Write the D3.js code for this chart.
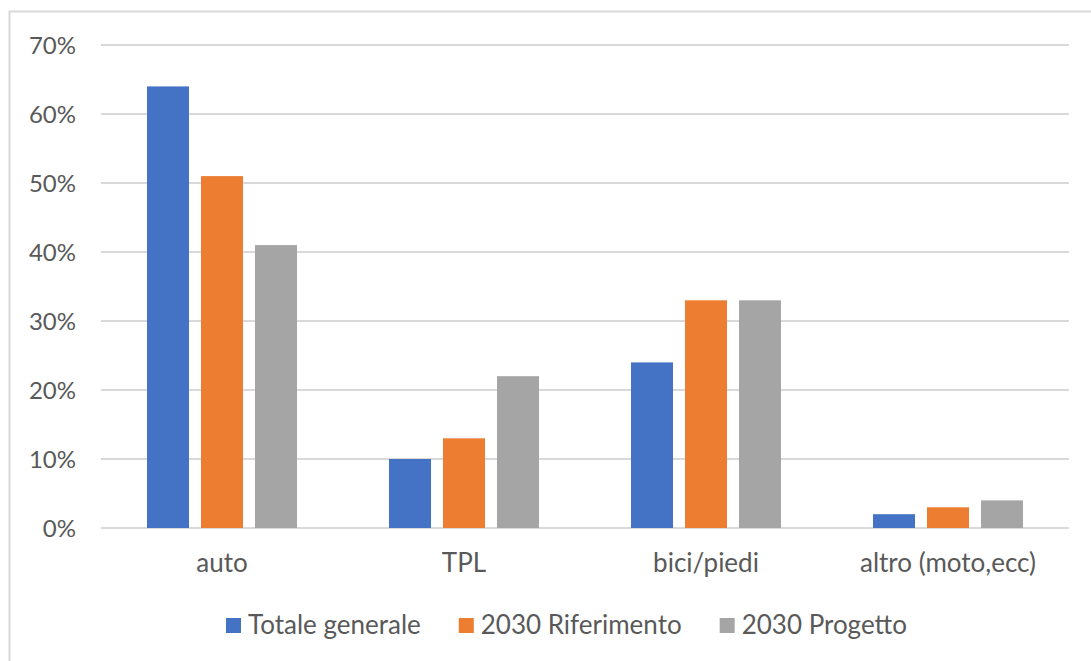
<!DOCTYPE html>
<html>
<head>
<meta charset="utf-8">
<script src="https://cdn.jsdelivr.net/npm/d3@7"></script>
<style>
  body { margin: 0; background: #fff; }
  svg { display: block; font-family: Lato, "Open Sans", sans-serif; }
</style>
</head>
<body>
<script>
width = 1091;
height = 661;
margin = { top: 45, right: 22, bottom: 133, left: 101 }

// data
var categories = ["auto", "TPL", "bici/piedi", "altro (moto,ecc)"];
var seriesNames = ["Totale generale", "2030 Riferimento", "2030 Progetto"];
var totaleGenerale = [0.64, 0.10, 0.24, 0.02];
var riferimento2030 = [0.51, 0.13, 0.33, 0.03];
var progetto2030 = [0.41, 0.22, 0.33, 0.04];
var yTicks = [0, 0.1, 0.2, 0.3, 0.4, 0.5, 0.6, 0.7];
var colors = ["#4472C4", "#ED7D31", "#A5A5A5"];

var values = [totaleGenerale, riferimento2030, progetto2030];
var data = categories.map(function(c, i){
    return { cat: c, vals: seriesNames.map(function(s, j){ return { key: s, value: values[j][i] }; }) };
});

const svg = d3.select('body')
    .append("svg")
    .attr('width', width)
    .attr('height', height);

// outer frame (only left/top visible in the reference)
svg.append('rect')
    .attr('x', 9.5)
    .attr('y', 11.5)
    .attr('width', 1200)
    .attr('height', 800)
    .attr('fill', 'white')
    .attr('stroke', '#d9d9d9')
    .attr('stroke-width', 2);

x0 = d3.scaleBand()
    .domain(categories)
    .range([margin.left, width - margin.right])
    .padding(0);

x1 = d3.scaleBand()
    .domain(seriesNames)
    .range([-75, 75])
    .paddingInner(12 / 54)
    .paddingOuter(0);

y = d3.scaleLinear()
    .domain([0, 0.7])
    .range([height - margin.bottom, margin.top]);

color = d3.scaleOrdinal()
    .domain(seriesNames)
    .range(colors);

// gridlines
svg.append('g')
    .selectAll('line')
    .data(yTicks)
    .join('line')
    .attr('x1', margin.left)
    .attr('x2', width - margin.right)
    .attr('y1', d => y(d))
    .attr('y2', d => y(d))
    .attr('stroke', '#d9d9d9')
    .attr('stroke-width', 1.8);

// y tick labels
svg.append('g')
    .selectAll('text')
    .data(yTicks)
    .join('text')
    .attr('x', margin.left - 25)
    .attr('y', d => y(d))
    .attr('dy', '0.36em')
    .attr('text-anchor', 'end')
    .attr('fill', '#595959')
    .style('font-size', '24px')
    .text(d => d3.format(".0%")(d));

// bars
svg.append('g')
    .selectAll('g')
    .data(data)
    .join('g')
    .attr('transform', d => `translate(${x0(d.cat) + x0.bandwidth() / 2},0)`)
    .selectAll('rect')
    .data(d => d.vals)
    .join('rect')
    .attr('x', d => x1(d.key))
    .attr('y', d => y(d.value))
    .attr('width', x1.bandwidth())
    .attr('height', d => y(0) - y(d.value))
    .attr('fill', d => color(d.key));

// category labels
svg.append('g')
    .selectAll('text')
    .data(categories)
    .join('text')
    .attr('x', d => x0(d) + x0.bandwidth() / 2)
    .attr('y', 572)
    .attr('text-anchor', 'middle')
    .attr('fill', '#595959')
    .style('font-size', '26px')
    .text(d => d);

// legend
var legend = svg.append('g').attr('class', 'legend');
var lx = 226;
seriesNames.forEach(function(s){
    legend.append('rect')
        .attr('x', lx)
        .attr('y', 618)
        .attr('width', 15)
        .attr('height', 15)
        .attr('fill', color(s));
    var t = legend.append('text')
        .attr('x', lx + 22)
        .attr('y', 634)
        .attr('fill', '#595959')
        .style('font-size', '26px')
        .text(s);
    lx = lx + 22 + t.node().getComputedTextLength() + 38;
});
</script>
</body>
</html>
